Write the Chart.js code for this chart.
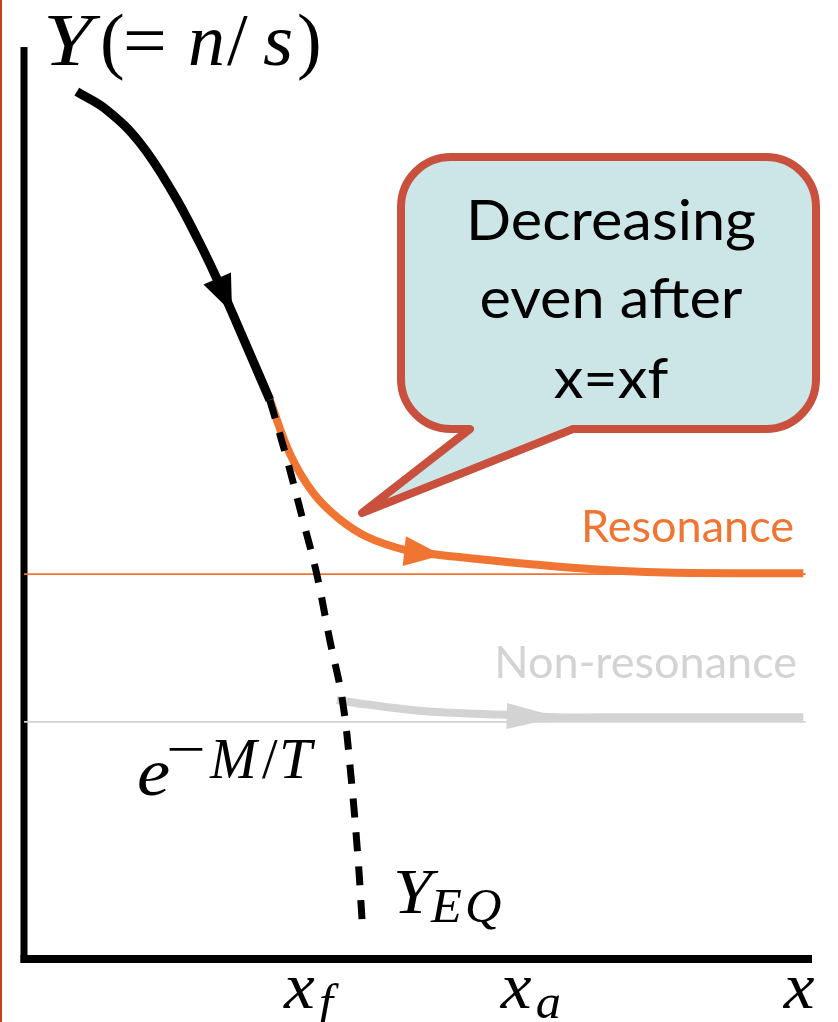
<!DOCTYPE html>
<html>
<head>
<meta charset="utf-8">
<script src="https://cdn.jsdelivr.net/npm/chart.js@4/dist/chart.umd.min.js"></script>
<style>
  html, body { margin: 0; padding: 0; background: #ffffff; }
  #wrap { width: 838px; height: 1022px; position: relative; }
</style>
</head>
<body>
<div id="wrap"><canvas id="c"></canvas></div>
<script>
// Relic abundance Y = n/s against x = M/T, schematic units (0..10 on both axes)
const trackX = [0.67, 1.05, 1.47, 1.89, 2.23, 2.49, 2.63, 2.87, 3.12];
const trackY = [9.51, 9.31, 8.95, 8.40, 7.85, 7.38, 7.11, 6.63, 6.13];

const equilibriumX = [3.12, 3.34, 3.54, 3.71, 3.88, 4.04, 4.15, 4.24, 4.29];
const equilibriumY = [6.13, 5.47, 4.81, 4.24, 3.50, 2.84, 2.00, 1.09, 0.43];

const resonanceX = [3.12, 3.38, 3.67, 3.98, 4.35, 4.86, 5.28, 6.68, 8.03, 9.89];
const resonanceY = [6.13, 5.53, 5.11, 4.84, 4.63, 4.48, 4.43, 4.31, 4.24, 4.23];

const nonResonanceX = [3.97, 4.35, 5.19, 6.04, 6.76, 7.31, 9.89];
const nonResonanceY = [2.84, 2.79, 2.71, 2.68, 2.65, 2.65, 2.65];

const resonanceLevel = 4.22;
const nonResonanceLevel = 2.60;
const levelSpanX = [0, 9.92];

// x-axis marks: main symbol + subscript, placed at these x values
const xTickAt = [3.30, 6.05, 9.64];
const xTickMain = ['x', 'x', 'x'];
const xTickSub = ['f', 'a', ''];

const toPoints = (xs, ys) => xs.map((x, i) => ({ x, y: ys[i] }));
const levelPoints = (level) => levelSpanX.map(x => ({ x, y: level }));

const BLACK = '#000000';
const ORANGE = '#f07532';
const GREY = '#d3d3d3';
const SERIF = '"Liberation Serif", "DejaVu Serif", serif';
const SANS = 'Lato, "Open Sans", "Noto Sans", sans-serif';

// arrowheads riding on the curves: dataset index, point index, size
const arrowHeads = [
  { dataset: 0, index: 6, length: 35, half: 15 },
  { dataset: 2, index: 6, length: 36, half: 15 },
  { dataset: 3, index: 4, length: 50, half: 13 }
];

function drawAxes(chart) {
  const { ctx, chartArea: a } = chart;
  ctx.save();
  // slide edge rule
  ctx.strokeStyle = '#c9401c';
  ctx.lineWidth = 2;
  ctx.beginPath();
  ctx.moveTo(1, 0);
  ctx.lineTo(1, chart.height);
  ctx.stroke();
  // axes
  ctx.strokeStyle = BLACK;
  ctx.lineCap = 'butt';
  ctx.lineWidth = 7;
  ctx.beginPath();
  ctx.moveTo(a.left, a.top);
  ctx.lineTo(a.left, a.bottom + 4);
  ctx.stroke();
  ctx.lineWidth = 8;
  ctx.beginPath();
  ctx.moveTo(a.left - 3.5, a.bottom);
  ctx.lineTo(a.right, a.bottom);
  ctx.stroke();
  ctx.restore();
}

function drawArrowHeads(chart) {
  const ctx = chart.ctx;
  ctx.save();
  arrowHeads.forEach(h => {
    const meta = chart.getDatasetMeta(h.dataset);
    const p = meta.data[h.index];
    let dx = p.x - p.cp1x, dy = p.y - p.cp1y;
    if (!isFinite(dx) || !isFinite(dy) || Math.hypot(dx, dy) < 0.5) {
      const q = meta.data[h.index - 1];
      dx = p.x - q.x; dy = p.y - q.y;
    }
    const len = Math.hypot(dx, dy);
    const ux = dx / len, uy = dy / len;
    const bx = p.x - ux * h.length, by = p.y - uy * h.length;
    ctx.fillStyle = chart.data.datasets[h.dataset].borderColor;
    ctx.beginPath();
    ctx.moveTo(p.x + ux * 2, p.y + uy * 2);
    ctx.lineTo(bx - uy * h.half, by + ux * h.half);
    ctx.lineTo(bx + uy * h.half, by - ux * h.half);
    ctx.closePath();
    ctx.fill();
  });
  ctx.restore();
}

// draw a run of math glyphs: [text, left, baseline, size, italic, scaleX]
function drawGlyphs(ctx, glyphs, color) {
  ctx.save();
  ctx.fillStyle = color;
  ctx.textBaseline = 'alphabetic';
  ctx.textAlign = 'left';
  glyphs.forEach(([t, x, y, size, italic, sx]) => {
    ctx.font = (italic ? 'italic ' : '') + size + 'px ' + SERIF;
    ctx.save();
    ctx.translate(x, y);
    ctx.scale(sx || 1, 1);
    ctx.fillText(t, 0, 0);
    ctx.restore();
  });
  ctx.restore();
}

function drawBubble(ctx) {
  const b = { left: 401, top: 157, right: 816, bottom: 429, r: 50,
              tailLeft: 470, tailRight: 573, tipX: 362, tipY: 513 };
  ctx.save();
  ctx.beginPath();
  ctx.moveTo(b.left + b.r, b.top);
  ctx.lineTo(b.right - b.r, b.top);
  ctx.arcTo(b.right, b.top, b.right, b.top + b.r, b.r);
  ctx.lineTo(b.right, b.bottom - b.r);
  ctx.arcTo(b.right, b.bottom, b.right - b.r, b.bottom, b.r);
  ctx.lineTo(b.tailRight, b.bottom);
  ctx.lineTo(b.tipX, b.tipY);
  ctx.lineTo(b.tailLeft, b.bottom);
  ctx.lineTo(b.left + b.r, b.bottom);
  ctx.arcTo(b.left, b.bottom, b.left, b.bottom - b.r, b.r);
  ctx.lineTo(b.left, b.top + b.r);
  ctx.arcTo(b.left, b.top, b.left + b.r, b.top, b.r);
  ctx.closePath();
  ctx.fillStyle = '#cce6e8';
  ctx.fill();
  ctx.lineJoin = 'round';
  ctx.lineWidth = 8;
  ctx.strokeStyle = '#c8503c';
  ctx.stroke();

  // callout text, widened so the first line spans the bubble's text block
  ctx.fillStyle = '#000000';
  ctx.font = '56px ' + SANS;
  ctx.textAlign = 'center';
  ctx.textBaseline = 'alphabetic';
  const sx = 290 / ctx.measureText('Decreasing').width;
  [['Decreasing', 240], ['even after', 318], ['x=xf', 398]].forEach(([t, y]) => {
    ctx.save();
    ctx.translate(611, y);
    ctx.scale(sx, 1);
    ctx.fillText(t, 0, 0);
    ctx.restore();
  });
  ctx.restore();
}

const annotations = {
  id: 'annotations',
  beforeDatasetsDraw(chart) { drawAxes(chart); },
  afterDatasetsDraw(chart) { drawArrowHeads(chart); },
  afterDraw(chart) {
    const ctx = chart.ctx;
    const xs = chart.scales.x;
    drawBubble(ctx);

    // curve labels
    ctx.save();
    ctx.font = '45px ' + SANS;
    ctx.textAlign = 'right';
    ctx.textBaseline = 'alphabetic';
    ctx.fillStyle = ORANGE;
    ctx.fillText('Resonance', 794, 542);
    ctx.fillStyle = GREY;
    ctx.fillText('Non-resonance', 797, 678);
    ctx.restore();

    // vertical axis title Y(= n/s)
    drawGlyphs(ctx, [
      ['Y', 43, 65, 74, true, 1.2],
      ['(', 100, 65, 74, false],
      ['=', 123, 65, 74, false, 1.05],
      ['n', 188, 65, 74, true, 1.0],
      ['/', 227, 65, 74, false],
      ['s', 263, 65, 74, true, 1.05],
      [')', 297, 65, 74, false]
    ], BLACK);

    // e^{-M/T}
    drawGlyphs(ctx, [
      ['e', 137, 795, 68, true, 1.1],
      ['\u2212', 166, 767, 54, false, 1.3],
      ['M', 210, 778, 56, true, 1.0],
      ['/', 262, 778, 56, false],
      ['T', 279, 778, 56, true, 1.05]
    ], BLACK);

    // Y_EQ
    drawGlyphs(ctx, [
      ['Y', 393, 913, 64, true, 1.1],
      ['E', 431, 922, 48, true, 1.05],
      ['Q', 465, 922, 48, true, 1.05]
    ], BLACK);

    // x-axis marks
    const marks = [];
    xTickAt.forEach((v, i) => {
      const px = xs.getPixelForValue(v);
      marks.push([xTickMain[i], px, 1008, 66, true, 1.05]);
      if (xTickSub[i]) marks.push([xTickSub[i], px + 35, 1018, 48, true, 1.05]);
    });
    drawGlyphs(ctx, marks, BLACK);
  }
};

const lineBase = { showLine: true, pointRadius: 0, pointHoverRadius: 0, fill: false,
                   tension: 0.4, clip: false };

new Chart(document.getElementById('c'), {
  type: 'scatter',
  data: {
    datasets: [
      { ...lineBase, label: 'Y', data: toPoints(trackX, trackY),
        borderColor: BLACK, borderWidth: 9 },
      { ...lineBase, label: 'Y_EQ', data: toPoints(equilibriumX, equilibriumY),
        borderColor: BLACK, borderWidth: 7, borderDash: [19, 15], borderCapStyle: 'butt' },
      { ...lineBase, label: 'Resonance', data: toPoints(resonanceX, resonanceY),
        borderColor: ORANGE, borderWidth: 8 },
      { ...lineBase, label: 'Non-resonance', data: toPoints(nonResonanceX, nonResonanceY),
        borderColor: GREY, borderWidth: 8 },
      { ...lineBase, label: 'Resonance level', data: levelPoints(resonanceLevel),
        borderColor: ORANGE, borderWidth: 1.6, tension: 0 },
      { ...lineBase, label: 'Non-resonance level', data: levelPoints(nonResonanceLevel),
        borderColor: GREY, borderWidth: 1.6, tension: 0 }
    ]
  },
  options: {
    responsive: true,
    maintainAspectRatio: false,
    animation: false,
    events: [],
    layout: { padding: { left: 24, right: 26, top: 47, bottom: 63 } },
    scales: {
      x: { type: 'linear', min: 0, max: 10, display: false },
      y: { type: 'linear', min: 0, max: 10, display: false }
    },
    plugins: { legend: { display: false }, tooltip: { enabled: false } }
  },
  plugins: [annotations]
});
</script>
</body>
</html>
